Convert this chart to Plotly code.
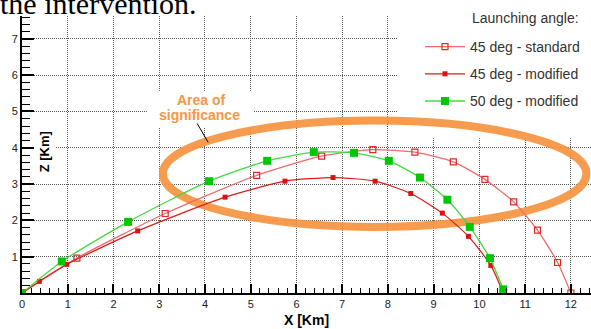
import plotly.graph_objects as go

# ---- data (X [Km], Z [Km]) ----
std_x = [0.0, 1.20, 3.13, 5.13, 6.55, 7.67, 8.59, 9.43, 10.12, 10.75, 11.27, 11.71, 12.0]
std_z = [0.0, 0.96, 2.19, 3.24, 3.77, 3.95, 3.88, 3.61, 3.13, 2.51, 1.73, 0.84, 0.0]

mod45_x = [0.0, 0.38, 0.98, 2.53, 4.44, 5.75, 6.80, 7.72, 8.50, 9.19, 9.76, 10.25, 10.52]
mod45_z = [0.0, 0.32, 0.79, 1.71, 2.64, 3.08, 3.18, 3.08, 2.74, 2.20, 1.56, 0.76, 0.0]

mod50_x = [0.0, 0.87, 2.32, 4.09, 5.36, 6.38, 7.26, 8.02, 8.70, 9.30, 9.79, 10.23, 10.52]
mod50_z = [0.0, 0.87, 1.96, 3.08, 3.64, 3.88, 3.86, 3.64, 3.18, 2.57, 1.82, 0.96, 0.10]

x_ticks = list(range(0, 13))
y_ticks = list(range(1, 8))

series_names = ["45 deg - standard", "45 deg - modified", "50 deg - modified"]

W, H = 591, 329
L, R, T, B = 22, 0, 16, 36
XR = [0, 12.44]
YR = [0, 7.63]

fig = go.Figure()

fig.add_trace(go.Scatter(
    x=std_x, y=std_z, name=series_names[0], mode="lines+markers",
    line=dict(color="#EE6A6A", width=1.3, shape="spline", smoothing=0.6),
    marker=dict(symbol="square-open", size=6, color="#E02828", line=dict(width=1.2)),
    legendgroup="a"))
fig.add_trace(go.Scatter(
    x=mod45_x, y=mod45_z, name=series_names[1], mode="lines+markers",
    line=dict(color="#DD1A1A", width=1.2, shape="spline", smoothing=0.6),
    marker=dict(symbol="square", size=5, color="#DD1111"),
    legendgroup="b"))
fig.add_trace(go.Scatter(
    x=mod50_x, y=mod50_z, name=series_names[2], mode="lines+markers",
    line=dict(color="#44D844", width=1.3, shape="spline", smoothing=0.6),
    marker=dict(symbol="square", size=8, color="#00C800"),
    legendgroup="c"))

font_main = "Liberation Sans, Arial, sans-serif"

shapes = [
    # white area behind legend (hides grid there)
    dict(type="rect", xref="x", yref="y", x0=8.22, x1=13, y0=4.26, y1=8,
         fillcolor="white", line=dict(width=0), layer="between"),
    # white area behind the "Area of significance" label
    dict(type="rect", xref="x", yref="y", x0=2.73, x1=5.05, y0=4.55, y1=5.57,
         fillcolor="white", line=dict(width=0), layer="between"),
    # orange "area of significance" ellipse
    dict(type="circle", xref="x", yref="y", x0=3.08, x1=12.34, y0=1.82, y1=4.75,
         line=dict(color="rgba(246,146,64,0.92)", width=8), layer="between"),
    # pointer line from label
    dict(type="line", xref="x", yref="y", x0=3.83, y0=4.67, x1=4.07, y1=4.15,
         line=dict(color="black", width=1), layer="above"),
]

annotations = [
    dict(text="the intervention.", xref="paper", yref="paper", x=0, y=1,
         xanchor="left", yanchor="bottom", xshift=-24, yshift=-6, showarrow=False,
         font=dict(family="Liberation Serif, Times New Roman, serif", size=30, color="black")),
    dict(text="Launching angle:", xref="paper", yref="paper",
         x=(470 - L) / (W - L - R), y=(H - B - 18) / (H - T - B),
         xanchor="left", yanchor="middle", showarrow=False,
         font=dict(family=font_main, size=14, color="#333333")),
    dict(text="<b>Area of</b>", x=3.92, y=5.31, xref="x", yref="y",
         showarrow=False, borderpad=0,
         font=dict(family=font_main, size=14, color="#F79646")),
    dict(text="<b>significance</b>", x=3.88, y=4.90, xref="x", yref="y",
         showarrow=False, borderpad=0,
         font=dict(family=font_main, size=14, color="#F79646")),
    dict(text="<b>Z [Km]</b>", x=0.5, y=3.9, xref="x", yref="y", textangle=-90,
         showarrow=False, bgcolor="white", borderpad=3,
         font=dict(family=font_main, size=13, color="black")),
]

fig.update_layout(
    width=W, height=H,
    margin=dict(l=L, r=R, t=T, b=B, autoexpand=False),
    paper_bgcolor="white", plot_bgcolor="white",
    shapes=shapes, annotations=annotations,
    showlegend=True,
    legend=dict(x=(420 - L) / (W - L - R), y=(H - B - 31) / (H - T - B),
                xanchor="left", yanchor="top", bgcolor="rgba(0,0,0,0)",
                traceorder="grouped", tracegroupgap=6, itemwidth=40,
                font=dict(family=font_main, size=14, color="#333333")),
)

fig.update_xaxes(
    range=XR, tickmode="array", tickvals=x_ticks, ticktext=[str(v) for v in x_ticks],
    ticks="inside", ticklen=9, tickwidth=2, tickcolor="black",
    showline=True, linewidth=2, linecolor="black", zeroline=False,
    showgrid=True, gridcolor="#555555", gridwidth=1, griddash="1px,1px",
    minor=dict(dtick=0.2, tick0=0, ticks="inside", ticklen=5, tickwidth=1,
               tickcolor="black", showgrid=False),
    tickfont=dict(family=font_main, size=11, color="#222222"),
    title=dict(text="<b>X [Km]</b>", standoff=6,
               font=dict(family=font_main, size=14, color="black")),
    automargin=False,
)
fig.update_yaxes(
    range=YR, tickmode="array", tickvals=y_ticks, ticktext=[str(v) for v in y_ticks],
    ticks="inside", ticklen=12, tickwidth=2, tickcolor="black",
    showline=True, linewidth=2, linecolor="black", zeroline=False,
    showgrid=True, gridcolor="#555555", gridwidth=1, griddash="1px,1px",
    minor=dict(dtick=0.2, tick0=0, ticks="inside", ticklen=8, tickwidth=1,
               tickcolor="black", showgrid=False),
    tickfont=dict(family=font_main, size=11, color="#222222"),
    automargin=False,
)

fig.write_html("out.html",
               config={"displayModeBar": False},
               post_script="document.body.style.margin='0';document.body.style.overflow='hidden';")
